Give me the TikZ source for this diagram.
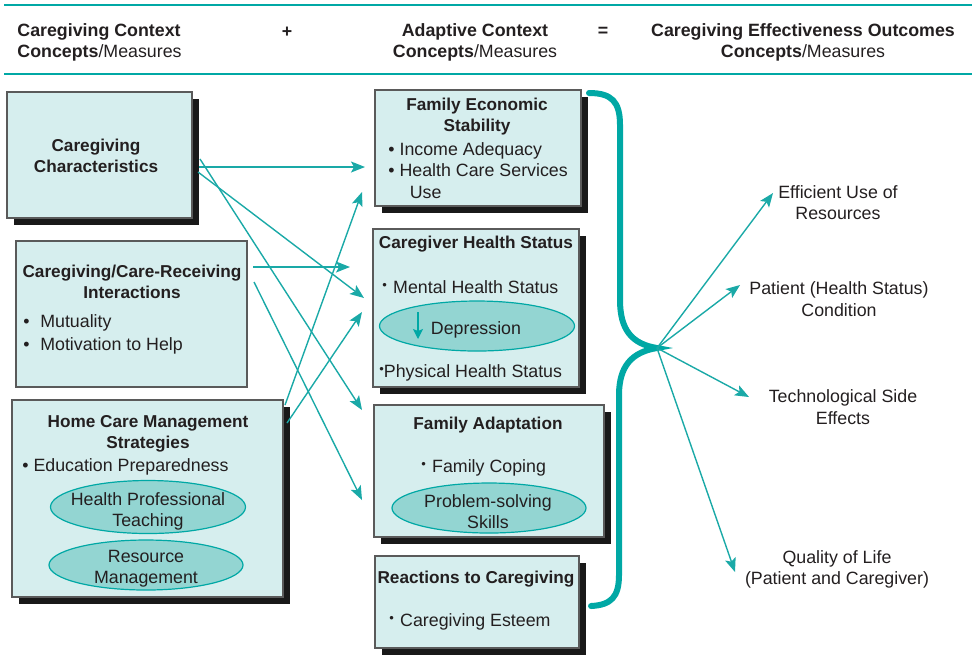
\documentclass[tikz,border=0pt]{standalone}
\usepackage{fontspec}
\setmainfont{Liberation Sans}
\usetikzlibrary{arrows.meta,shapes.geometric,shadows}
\definecolor{teal0}{HTML}{00A8A5}
\definecolor{teal1}{HTML}{1AA9A7}
\definecolor{boxfill}{HTML}{D6EEEE}
\definecolor{ovalfill}{HTML}{93D5D2}
\definecolor{boxline}{HTML}{5A5A5A}
\definecolor{ink}{HTML}{231F20}
\newcommand{\sbul}{\raisebox{0.4ex}{\fontsize{6.5}{6.5}\selectfont\textbullet}}

\begin{document}
\begin{tikzpicture}[x=0.5pt,y=-0.5pt,
  box/.style={draw=boxline,fill=boxfill,line width=0.6pt,inner sep=0pt},
  shadowed/.style={drop shadow={shadow xshift=3.5pt,shadow yshift=-3.5pt,opacity=1,fill=black!90}},
  oval/.style={ellipse,draw=teal0,fill=ovalfill,line width=0.6pt,inner sep=0pt},
  txt/.style={font=\fontsize{8.9}{10.7}\selectfont,text=ink,inner sep=0pt,align=center},
  ttl/.style={txt,font=\fontsize{8.6}{10.5}\selectfont\bfseries},
  link/.style={draw=teal1,line width=0.7pt,-{Stealth[length=7pt,width=5.5pt,inset=1.5pt]}},
  brace/.style={draw=teal0,line width=3pt,line cap=round}]
\useasboundingbox (0,0) rectangle (972,655);

% header
\draw[teal0,line width=1.3pt] (4,5) -- (972,5);
\draw[teal0,line width=1.3pt] (4,74) -- (972,74);
\node[txt,align=left,anchor=west] (hleft) at (17,42.5) {\textbf{Caregiving Context}\\\textbf{Concepts}/Measures};
\node[txt] (hplus) at (287,32) {\textbf{+}};
\node[txt] (hmid) at (475,42.5) {\textbf{Adaptive Context}\\\textbf{Concepts}/Measures};
\node[txt] (heq) at (603,32) {\textbf{=}};
\node[txt] (hright) at (803,42.5) {\textbf{Caregiving Effectiveness Outcomes}\\\textbf{Concepts}/Measures};

% caregiving context boxes
\node[box,shadowed,minimum width=92.5pt,minimum height=63pt] (chars) at (99.5,155) {};
\node[ttl] (charst) at (96,155.5) {Caregiving\\Characteristics};

\node[box,minimum width=115.5pt,minimum height=73pt] (inter) at (131.5,314) {};
\node[ttl] (intert) at (132,281.5) {Caregiving/Care-Receiving\\Interactions};
\node[txt,align=left,anchor=west,font=\fontsize{8.9}{11.5}\selectfont] (interl) at (23,334.5) {\textbullet\hspace{0.6em}Mutuality\\\textbullet\hspace{0.6em}Motivation to Help};

\node[box,shadowed,minimum width=135.5pt,minimum height=98.5pt] (home) at (147.5,498.5) {};
\node[ttl] (homet) at (148,434) {Home Care Management\\Strategies};
\node[txt,anchor=west] (homel) at (22,466.5) {\textbullet{} Education Preparedness};
\node[oval,minimum width=97.5pt,minimum height=26.5pt] (teach) at (148,507) {};
\node[txt] (teacht) at (148,511.5) {Health Professional\\Teaching};
\node[oval,minimum width=97pt,minimum height=25pt] (resm) at (146,565) {};
\node[txt] (resmt) at (146,569) {Resource\\Management};

% adaptive context boxes
\node[box,shadowed,minimum width=103pt,minimum height=58pt] (econ) at (478,148) {};
\node[ttl] (econt) at (477,116.5) {Family Economic\\Stability};
\node[txt,align=left,anchor=west] (econl) at (388,170.5) {\textbullet{} Income Adequacy\\\textbullet{} Health Care Services\\\hspace*{1.2em}Use};

\node[box,shadowed,minimum width=103pt,minimum height=79pt] (health) at (476,308) {};
\node[ttl] (healtht) at (476,244) {Caregiver Health Status};
\node[txt,anchor=west] (mental) at (382,287) {\sbul\hspace{0.35em}Mental Health Status};
\node[oval,minimum width=97.5pt,minimum height=25pt] (depr) at (477,326) {};
\node[txt] (deprt) at (476,330) {Depression};
\coordinate (dtop) at (418,312);
\coordinate (dbot) at (418,339);
\draw[teal0,line width=0.7pt,-{Stealth[length=5pt,width=5pt,inset=1pt]}] (dtop) -- (dbot);
\node[txt,anchor=west] (phys) at (379,373) {\sbul Physical Health Status};

\node[box,shadowed,minimum width=115pt,minimum height=66pt] (adapt) at (489,471) {};
\node[ttl] (adaptt) at (488,425) {Family Adaptation};
\node[txt,anchor=west] (coping) at (421,468) {\sbul\hspace{0.35em}Family Coping};
\node[oval,minimum width=97pt,minimum height=25pt] (solve) at (489,508) {};
\node[txt] (solvet) at (488,511.5) {Problem-solving\\Skills};

\node[box,shadowed,minimum width=102pt,minimum height=46pt] (react) at (477,602) {};
\node[ttl] (reactt) at (476,579) {Reactions to Caregiving};
\node[txt,anchor=west] (esteem) at (389,622) {\sbul\hspace{0.35em}Caregiving Esteem};

% links into adaptive context
\coordinate (c1a) at (199,167); \coordinate (e1a) at (365,167);
\coordinate (c1b) at (198,172); \coordinate (e1b) at (364,298);
\coordinate (c1c) at (200,159); \coordinate (e1c) at (362,410);
\coordinate (c2a) at (253,267); \coordinate (e2a) at (350,267);
\coordinate (c2b) at (254,282); \coordinate (e2b) at (362,500);
\coordinate (c3a) at (285,405); \coordinate (e3a) at (362,192);
\coordinate (c3b) at (287,423); \coordinate (e3b) at (362,312);
\draw[link] (c1a) -- (e1a);
\draw[link] (c1b) -- (e1b);
\draw[link] (c1c) -- (e1c);
\draw[link] (c2a) -- (e2a);
\draw[link] (c2b) -- (e2b);
\draw[link] (c3a) -- (e3a);
\draw[link] (c3b) -- (e3b);

% brace
\coordinate (hub) at (657,348);
\draw[brace] (589,93) .. controls (612,93) and (620,102) .. (620,125) -- (620,300)
  .. controls (620,330) and (632,344) .. (hub)
  .. controls (632,352) and (619,366) .. (619,395) -- (619,575)
  .. controls (619,597) and (611,605) .. (591,606);

% outcomes
\node[txt] (effic) at (838,202.5) {Efficient Use of\\Resources};
\node[txt] (patient) at (839,299) {Patient (Health Status)\\Condition};
\node[txt] (techno) at (843,407) {Technological Side\\Effects};
\node[txt] (qual) at (837,569.5) {Quality of Life\\(Patient and Caregiver)};
\coordinate (o1) at (773,193);
\coordinate (o2) at (740,285);
\coordinate (o3) at (749,397);
\coordinate (o4) at (735,572);
\draw[link] (hub) -- (o1);
\draw[link] (hub) -- (o2);
\draw[link] (hub) -- (o3);
\draw[link] (hub) -- (o4);
\end{tikzpicture}
\end{document}
